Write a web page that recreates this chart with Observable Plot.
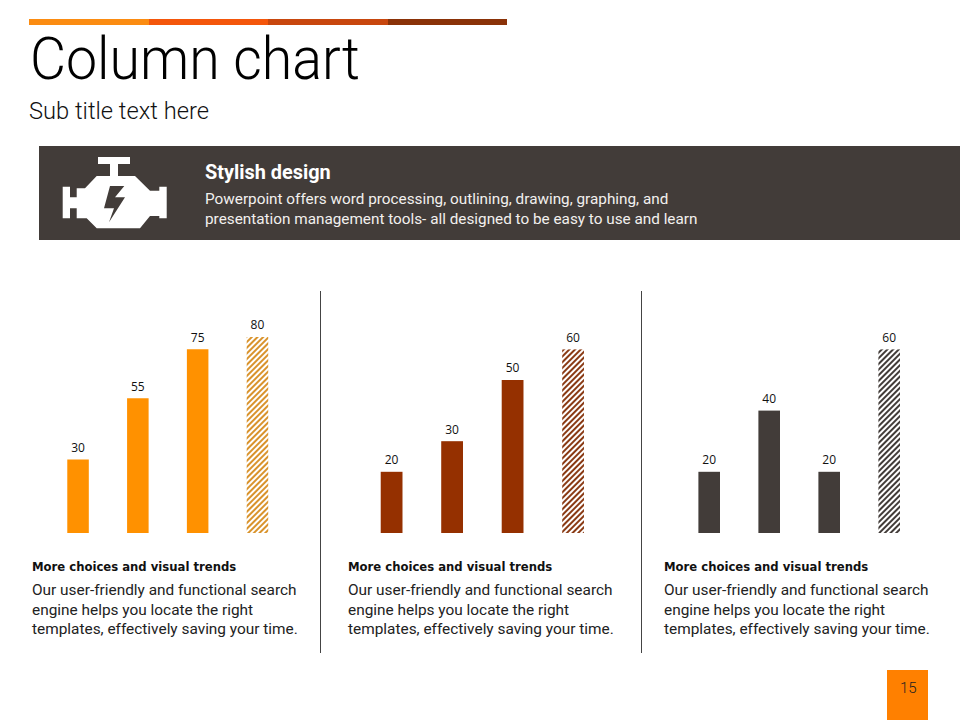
<!DOCTYPE html>
<html><head><meta charset="utf-8">
<script src="https://cdn.jsdelivr.net/npm/d3@7"></script>
<script src="https://cdn.jsdelivr.net/npm/@observablehq/plot@0.6"></script>
<style>
html,body{margin:0;padding:0;background:#fff}
#page{position:relative;width:960px;height:720px;overflow:hidden;font-family:Roboto,sans-serif;color:#111}
#page>*{position:absolute}
.t{white-space:nowrap}
.head{font:bold 11.65px "DejaVu Sans",sans-serif;color:#111;white-space:nowrap}
.body{font:15.4px/19.7px "Roboto",sans-serif;color:#222;white-space:nowrap}
</style></head><body><div id="page"></div>
<script>
const categories = ["A","B","C","D"];
const seriesOne = [30,55,75,80];
const seriesTwo = [20,30,50,60];
const seriesThree = [20,40,20,60];
const title = "Column chart";
const subtitle = "Sub title text here";
const bannerHead = "Stylish design";
const bannerBody = ["Powerpoint offers word processing, outlining, drawing, graphing, and","presentation management tools- all designed to be easy to use and learn"];
const panelHead = "More choices and visual trends";
const panelBody = ["Our user-friendly and functional search","engine helps you locate the right","templates, effectively saving your time."];
const pageNumber = "15";

const page = document.getElementById("page");
function box(l,t,w,h,c){const d=document.createElement("div");d.style.cssText=`left:${l}px;top:${t}px;width:${w}px;height:${h}px;background:${c}`;page.append(d);return d;}
function text(l,t,s,css,cls){const d=document.createElement("div");d.className=cls||"t";d.style.cssText=`left:${l}px;top:${t}px;${css||""}`;d.innerHTML=s;page.append(d);return d;}

box(29,19,120,6,"#fb8c12");box(149,19,119,6,"#f4560b");box(268,19,120,6,"#c8470e");box(388,19,119,6,"#8a3208");
text(30,24,title,"font:300 59px/70px Roboto;color:#000;transform:scaleX(.94);transform-origin:0 0");
text(29,97,subtitle,"font:300 23.7px/28px Roboto;color:#111");
box(39,146,921,94,"#423c39");
text(205,161,bannerHead,"font:bold 19.9px/24px Roboto;color:#fff");
text(205,189,bannerBody.join("<br>"),"font:400 15.3px/20px Roboto;color:#f2f0ee");

const icon=document.createElementNS("http://www.w3.org/2000/svg","svg");
icon.setAttribute("width","960");icon.setAttribute("height","260");
icon.style.cssText="left:0;top:0";
icon.innerHTML=`<g fill="#fff"><rect x="98" y="157" width="32" height="7"/><rect x="110" y="164" width="8" height="12"/>
<path fill-rule="evenodd" d="M96.7 176H135L150 190.7H159.3V186.7H166.7V218.3H159.3V216H150L140 228.3H96.7L86.7 218.3H76.7V208.3H70V218.3H62.7V186.7H70V197.3H76.7V188.3H85Z M110 186H124.3L115 197.3H125L109 222.3L114 208.3H104Z"/></g>`;
page.append(icon);

function chart(vals,color,hatch,id,left,rangeW,yMax){
  const rows=categories.map((c,i)=>({c,v:vals[i],h:i===3}));
  const pat=()=>{const ns="http://www.w3.org/2000/svg";const defs=document.createElementNS(ns,"defs");
    const p=document.createElementNS(ns,"pattern");p.setAttribute("id",id);p.setAttribute("patternUnits","userSpaceOnUse");
    p.setAttribute("width","4");p.setAttribute("height","4");p.setAttribute("patternTransform","rotate(45)");
    const r=document.createElementNS(ns,"rect");r.setAttribute("width","2");r.setAttribute("height","4");r.setAttribute("fill",hatch);p.append(r);defs.append(p);return defs;};
  const svg=Plot.plot({width:300,height:270,marginTop:20,marginBottom:0,marginLeft:10,marginRight:300-10-rangeW,
    style:{background:"transparent",overflow:"visible"},
    x:{domain:categories,axis:null,padding:0.64,round:false},
    y:{domain:[0,yMax],axis:null},
    marks:[pat,
      Plot.barY(rows,{x:"c",y:"v",fill:d=>d.h?`url(#${id})`:color}),
      Plot.text(rows,{x:"c",y:"v",text:d=>String(d.v),dy:-12,dx:-0.5,fontSize:12,fontFamily:"Open Sans, sans-serif",fill:"#111"})
    ]});
  svg.style.left=(left-10)+"px";svg.style.top="263px";
  page.append(svg);
}
chart(seriesOne,"#ff9100","#d9932c","h1",28.5,277.5,250/2.45);
chart(seriesTwo,"#953000","#8a3a14","h2",342.3,280.7,250/3.06);
chart(seriesThree,"#423c39","#423c39","h3",659.6,278.4,250/3.06);

box(320,291,1,362,"#444");box(641,291,1,362,"#444");
[32,348,664].forEach(x=>{
  text(x,560,panelHead,"","head");
  text(x,581,panelBody.join("<br>"),"","body");
});
box(887,670,41,50,"#ff8000");
text(900,679,pageNumber,"font:300 15px/18px Roboto;color:#222");
</script></body></html>
